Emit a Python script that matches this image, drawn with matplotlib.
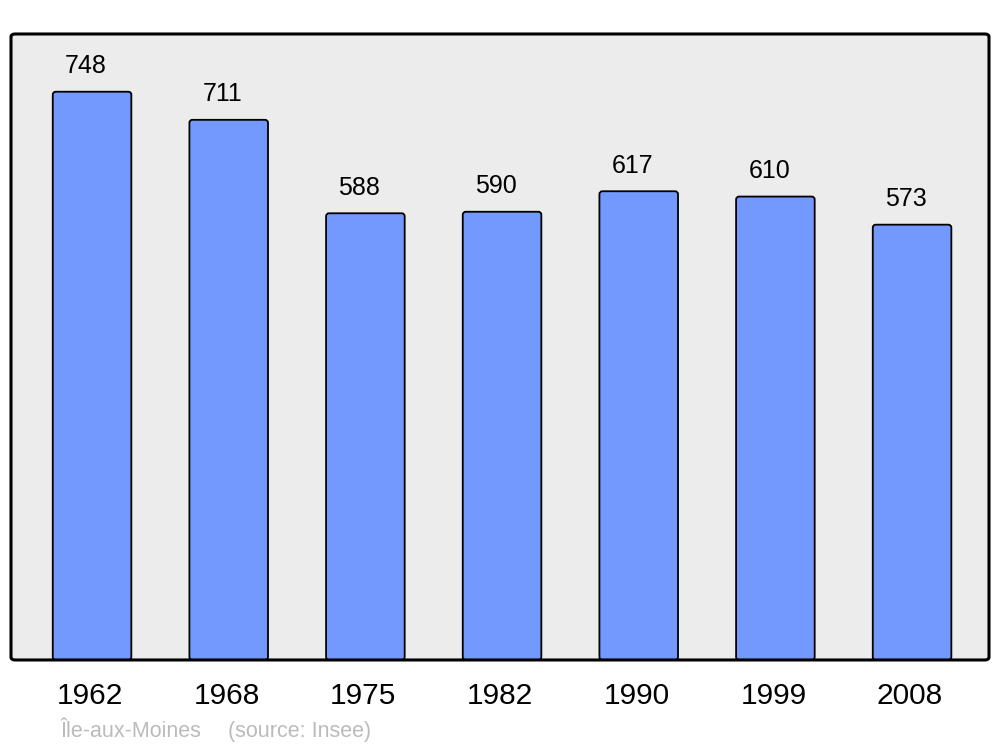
import matplotlib.pyplot as plt
from matplotlib.patches import FancyBboxPatch
from matplotlib.transforms import ScaledTranslation

plt.rcParams['font.family'] = ['Liberation Sans', 'DejaVu Sans']

# donnees
annees = ['1962', '1968', '1975', '1982', '1990', '1999', '2008']
population = [748, 711, 588, 590, 617, 610, 573]

fig = plt.figure(figsize=(10, 7.47), dpi=100)
ax = fig.add_axes([0.011, 0.1165, 0.978, 0.838])
ax.set_facecolor('none')

x = list(range(len(annees)))
bars = ax.bar(x, population, width=0.575, color='#7399ff', edgecolor='black', linewidth=1.3, zorder=2)

ax.set_xlim(-0.593, 6.563)
ax.set_ylim(0, 824)

# coins arrondis : on remplace chaque barre par un FancyBboxPatch
px_x = 978 / (6.563 + 0.593)
px_y = 626 / 824
for b in bars:
    r = FancyBboxPatch((b.get_x(), 0), b.get_width(), b.get_height(),
                       boxstyle='round,pad=0,rounding_size=0.022', mutation_aspect=px_x / px_y,
                       facecolor='#7399ff', edgecolor='black', linewidth=1.3, zorder=2)
    ax.add_patch(r)
    b.set_visible(False)

# valeurs au-dessus des barres
for b, v in zip(bars, population):
    ax.annotate(str(v), (b.get_x() + b.get_width() / 2, v), xytext=(-4.5, 18.5),
                textcoords='offset points', ha='center', va='center', fontsize=18)

ax.set_xticks(x)
ax.set_xticklabels(annees, fontsize=21.5)
ax.tick_params(axis='x', length=0, pad=16)
decal = ScaledTranslation(-2 / 100, 0, fig.dpi_scale_trans)
for lab in ax.get_xticklabels():
    lab.set_transform(lab.get_transform() + decal)
ax.set_yticks([])
for s in ax.spines.values():
    s.set_visible(False)

# cadre arrondi (fond + bord)
fond = FancyBboxPatch((0.011, 0.1165), 0.978, 0.838, boxstyle='round,pad=0,rounding_size=0.004',
                      transform=fig.transFigure, facecolor='#ececec', edgecolor='none', zorder=0)
bord = FancyBboxPatch((0.011, 0.1165), 0.978, 0.838, boxstyle='round,pad=0,rounding_size=0.004',
                      transform=fig.transFigure, facecolor='none', edgecolor='black',
                      linewidth=2.2, zorder=5)
for p in (fond, bord):
    p.set_clip_on(False)
    ax.add_artist(p)

fig.text(0.061, 1 - 737 / 747, 'Île-aux-Moines', fontsize=15.5,
         color='#bbbbbb', ha='left', va='baseline')
fig.text(0.228, 1 - 737 / 747, '(source: Insee)', fontsize=15.5,
         color='#bbbbbb', ha='left', va='baseline')

fig.savefig('out.png', dpi=100)
